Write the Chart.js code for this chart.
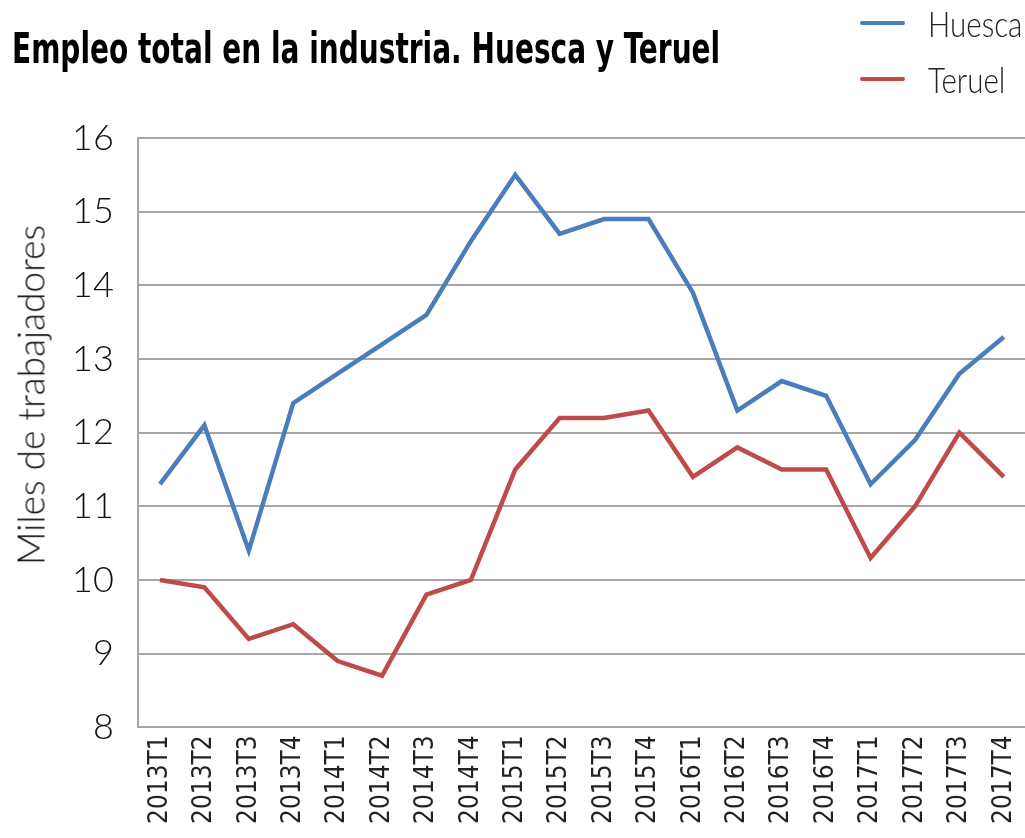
<!DOCTYPE html>
<html>
<head>
<meta charset="utf-8">
<script src="https://cdn.jsdelivr.net/npm/chart.js@4"></script>
<style>
  html, body { margin: 0; padding: 0; background: #fff; overflow: hidden; }
  #wrap { position: relative; width: 1025px; height: 838px; overflow: hidden; }
  #title { position: absolute; left: 12px; top: 24px; font: bold 42px "DejaVu Sans Condensed", sans-serif; color: #000; white-space: nowrap; transform-origin: 0 0; }
  #legend { position: absolute; left: 860px; top: -5px; font: 300 36px "Lato", sans-serif; color: #222; }
  .item { display: flex; align-items: center; height: 56px; white-space: nowrap; }
  .swatch { width: 45px; height: 4px; margin-right: 23px; border-radius: 2px; }
  .txt { display: inline-block; transform: scaleX(0.82); transform-origin: 0 50%; }
  #ytitle { position: absolute; left: 30px; top: 395px; font: 300 37px "Lato", sans-serif; color: #111; white-space: nowrap; transform: translate(-50%, -50%) rotate(-90deg); }
</style>
</head>
<body>
<div id="wrap">
  <canvas id="chart" width="1043" height="838"></canvas>
  <div id="title">Empleo total en la industria. Huesca y Teruel</div>
  <div id="ytitle">Miles de trabajadores</div>
  <div id="legend"></div>
</div>
<script>
// Empleo industrial por trimestre (miles de trabajadores)
const quarters = ["2013T1", "2013T2", "2013T3", "2013T4", "2014T1", "2014T2", "2014T3", "2014T4",
  "2015T1", "2015T2", "2015T3", "2015T4", "2016T1", "2016T2", "2016T3", "2016T4",
  "2017T1", "2017T2", "2017T3", "2017T4"];
const huesca = [11.3, 12.1, 10.4, 12.4, 12.8, 13.2, 13.6, 14.6, 15.5, 14.7, 14.9, 14.9, 13.9, 12.3, 12.7, 12.5, 11.3, 11.9, 12.8, 13.3];
const teruel = [10.0, 9.9, 9.2, 9.4, 8.9, 8.7, 9.8, 10.0, 11.5, 12.2, 12.2, 12.3, 11.4, 11.8, 11.5, 11.5, 10.3, 11.0, 12.0, 11.4];
const yMin = 8;
const yMax = 16;

const series = [
  { label: "Huesca", data: huesca, color: "#4a7ebb" },
  { label: "Teruel", data: teruel, color: "#be4b48" },
];

// titulo estrecho: se escala al ancho del original
const title = document.getElementById("title");
title.style.transform = "scaleX(" + (708 / title.offsetWidth) + ")";

const legend = document.getElementById("legend");
legend.innerHTML = series
  .map((s) => `<div class="item"><span class="swatch" style="background:${s.color}"></span><span class="txt">${s.label}</span></div>`)
  .join("");

new Chart(document.getElementById("chart").getContext("2d"), {
  type: "line",
  data: {
    labels: quarters,
    datasets: series.map((s) => ({
      label: s.label,
      data: s.data,
      borderColor: s.color,
      backgroundColor: s.color,
      borderWidth: 4.5,
      pointRadius: 0,
      tension: 0,
      fill: false,
    })),
  },
  options: {
    responsive: false,
    animation: false,
    layout: { padding: { top: 138, right: 0, left: 48, bottom: 6 } },
    plugins: { legend: { display: false }, tooltip: { enabled: false } },
    scales: {
      x: {
        offset: true,
        grid: { display: false, drawTicks: false },
        border: { color: "#a6a6a6", width: 2 },
        ticks: {
          color: "#222",
          font: { family: "DejaVu Sans Condensed", size: 26 },
          maxRotation: 90,
          minRotation: 90,
          autoSkip: false,
          padding: 8,
        },
      },
      y: {
        min: yMin,
        max: yMax,
        grid: { color: "#a6a6a6", lineWidth: 2, drawTicks: false },
        border: { color: "#a6a6a6", width: 2 },
        ticks: {
          stepSize: 1,
          color: "#111",
          font: { family: "Lato", size: 36, weight: "300" },
          padding: 24,
        },
      },
    },
  },
});
</script>
</body>
</html>
